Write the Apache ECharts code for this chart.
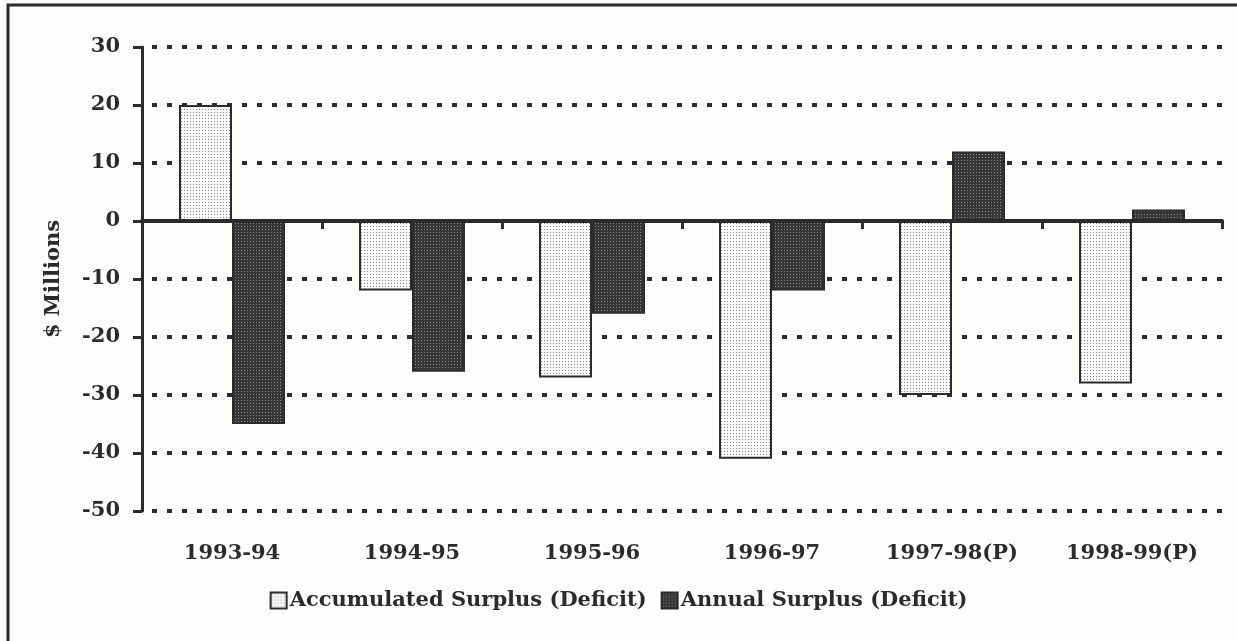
<!DOCTYPE html>
<html>
<head>
<meta charset="utf-8">
<script src="https://cdn.jsdelivr.net/npm/echarts@6/dist/echarts.min.js"></script>
<style>
  html, body { margin: 0; padding: 0; background: #fdfdfb; }
  #chart { width: 1237px; height: 641px; }
</style>
</head>
<body>
<div id="chart"></div>
<script>
// data
var years = ['1993-94', '1994-95', '1995-96', '1996-97', '1997-98(P)', '1998-99(P)']
var accumulated = [20, -12, -27, -41, -30, -28]
var annual = [-35, -26, -16, -12, 12, 2]

// dotted fill patterns, like the printed screen tones
function dots(bg, dot, step) {
  var c = document.createElement('canvas')
  c.width = step
  c.height = step
  var ctx = c.getContext('2d')
  ctx.fillStyle = bg
  ctx.fillRect(0, 0, step, step)
  ctx.fillStyle = dot
  ctx.fillRect(1, 1, 1, 1)
  return c
}
var lightFill = { image: dots('#fbfbfb', '#8a8a8a', 3), repeat: 'repeat' }
var darkFill = { image: dots('#363636', '#8c8c8c', 3), repeat: 'repeat' }

var ink = '#2b2b2b'
var font = 'DejaVu Serif'

var chart = echarts.init(document.getElementById('chart'))
var option = {
  backgroundColor: '#fdfdfb',
  animation: false,
  graphic: [
    {
      type: 'rect',
      shape: { x: 8, y: 5, width: 1250, height: 660 },
      style: { fill: 'none', stroke: ink, lineWidth: 3 },
      silent: true
    }
  ],
  grid: { left: 142, right: 15, top: 47, bottom: 130 },
  legend: {
    bottom: 25,
    left: 'center',
    icon: 'rect',
    itemWidth: 16,
    itemHeight: 16,
    itemGap: 14,
    textStyle: { fontFamily: font, fontWeight: 'bold', fontSize: 21, color: ink, padding: [0, 0, 0, -2] },
    data: ['Accumulated Surplus (Deficit)', 'Annual Surplus (Deficit)']
  },
  xAxis: [
    {
      type: 'category',
      data: years,
      z: 5,
      axisLine: { onZero: true, lineStyle: { color: ink, width: 4 } },
      axisTick: { show: true, length: 8, lineStyle: { color: ink, width: 3 } },
      axisLabel: { show: false }
    },
    {
      type: 'category',
      data: years,
      position: 'bottom',
      axisLine: { show: false },
      axisTick: { show: false },
      axisLabel: {
        margin: 32,
        fontFamily: font,
        fontWeight: 'bold',
        fontSize: 21,
        color: ink
      }
    }
  ],
  yAxis: {
    type: 'value',
    min: -50,
    max: 30,
    interval: 10,
    name: '$ Millions',
    nameLocation: 'middle',
    nameGap: 78,
    nameTextStyle: { fontFamily: font, fontWeight: 'bold', fontSize: 21, color: ink },
    axisLine: { show: true, lineStyle: { color: ink, width: 3 } },
    axisTick: { show: true, length: 9, lineStyle: { color: ink, width: 3 } },
    axisLabel: {
      margin: 22,
      fontFamily: font,
      fontWeight: 'bold',
      fontSize: 21,
      color: ink
    },
    splitLine: {
      show: true,
      lineStyle: { color: ink, width: 4, type: [5, 10], dashOffset: -10 }
    }
  },
  series: [
    {
      name: 'Accumulated Surplus (Deficit)',
      type: 'bar',
      xAxisIndex: 0,
      barWidth: 53,
      barGap: '0%',
      itemStyle: { color: lightFill, borderColor: ink, borderWidth: 2 },
      data: accumulated
    },
    {
      name: 'Annual Surplus (Deficit)',
      type: 'bar',
      xAxisIndex: 0,
      barWidth: 53,
      barGap: '0%',
      itemStyle: { color: darkFill, borderColor: ink, borderWidth: 2 },
      data: annual
    }
  ]
}
chart.setOption(option)
</script>
</body>
</html>
